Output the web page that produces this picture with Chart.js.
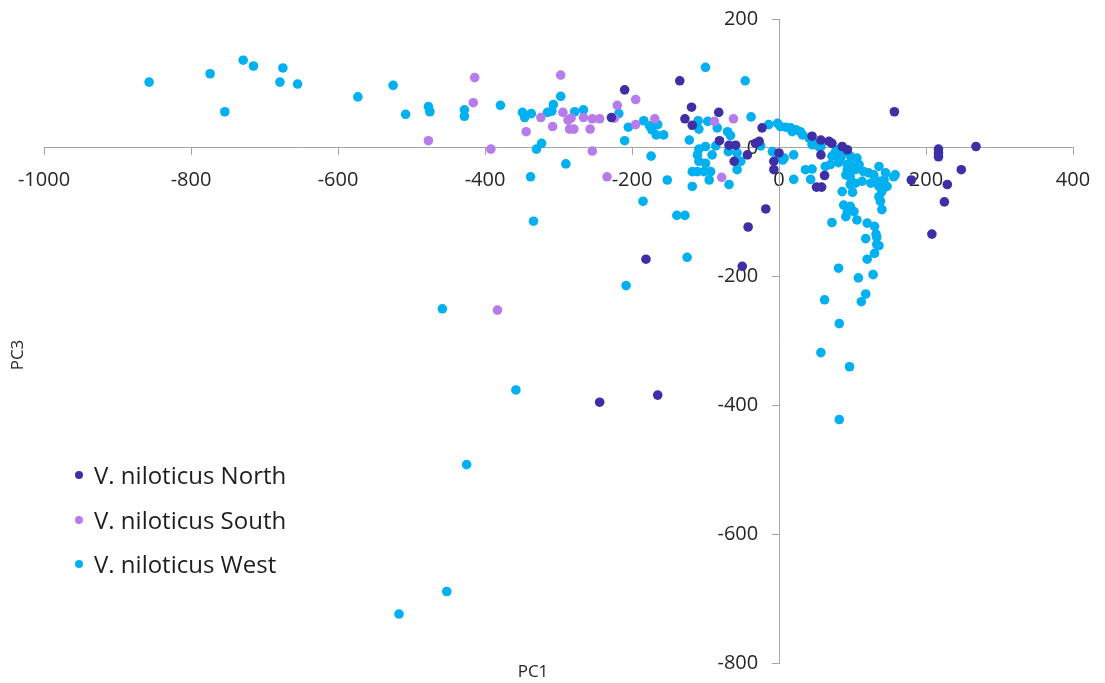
<!DOCTYPE html>
<html>
<head>
<meta charset="utf-8">
<script src="https://cdn.jsdelivr.net/npm/chart.js@4.4.0/dist/chart.umd.min.js"></script>
<style>
  html, body { margin: 0; padding: 0; background: #fff; }
  #wrap { position: relative; width: 1105px; height: 683px; }
  #legend { position: absolute; left: 74px; top: 458px; font-family: "Open Sans", sans-serif; font-size: 24px; color: #1e1e1e; }
  #legend .item { height: 44.5px; line-height: 33px; display: flex; align-items: flex-start; }
  #legend .dot { width: 8px; height: 8px; border-radius: 50%; margin: 13px 11px 0 1px; }
</style>
</head>
<body>
<div id="wrap">
  <canvas id="chartCanvas" width="1105" height="683"></canvas>
  <div id="legend"></div>
</div>
<script>
const seriesNames = ["V. niloticus North", "V. niloticus South", "V. niloticus West"];
const seriesColors = ["#3F2FA6", "#B77CEB", "#00B0F0"];

const xTickValues = [-1000, -800, -600, -400, -200, 0, 200, 400];
const yTickValues = [-800, -600, -400, -200, 0, 200];

const north = [
    [-210, 90], [-135, 104], [-228, 47], [-119, 63], [-128, 45], [-118, 35], [-82, 55], [-81, 11],
    [-68, 4], [-59, 4], [-61, -21], [-43, -11], [-32, 7], [-27, 10], [-23, 31], [-7, -21], [-7, -34],
    [0, -8], [-18, -95], [-42, -123], [-50, -184], [-181, -173], [-244, -395], [-165, -384],
    [45, 18], [57, 12], [68, 10], [72, 7], [86, 2], [93, -3], [57, -11], [62, -43], [51, -61], [58, -61],
    [157, 56], [217, -2], [217, -8], [217, -14], [268, 2], [248, -34], [229, -57], [225, -84],
    [208, -134], [180, -50]
];

const south = [
    [-414, 109], [-416, 70], [-477, 11], [-392, -2], [-297, 113], [-344, 25], [-324, 47], [-308, 33],
    [-294, 55], [-287, 43], [-283, 46], [-285, 29], [-279, 29], [-266, 47], [-254, 45], [-244, 45],
    [-257, 29], [-254, -5], [-234, -45], [-220, 66], [-224, 46], [-195, 75], [-195, 36], [-169, 45],
    [-62, 45], [-88, 41], [-78, -46], [-383, -252]
];

const west = [
    [-857, 102], [-774, 115], [-729, 136], [-715, 127], [-675, 124], [-679, 102], [-655, 99], [-754, 56],
    [-573, 79], [-525, 97], [-508, 52], [-477, 64], [-475, 56], [-428, 59], [-428, 49], [-379, 66],
    [-349, 55], [-346, 47], [-337, 53], [-315, 55], [-309, 57], [-307, 67], [-297, 80], [-278, 56],
    [-266, 59], [-323, 7], [-330, -2], [-290, -25], [-338, -45], [-334, -114],
    [-218, 53], [-205, 32], [-210, 11], [-184, 42], [-176, 34], [-173, 28], [-165, 36], [-167, 20],
    [-157, 20], [-174, -13], [-152, -50], [-185, -83], [-139, -105], [-128, -105], [-125, -170], [-208, -214],
    [-458, -250], [-358, -376], [-425, -492], [-452, -689], [-517, -724],
    [-100, 125], [-46, 104], [-38, 48], [-14, 36], [-110, 42], [-97, 41], [-84, 31], [-109, 29],
    [-70, 25], [-66, 19], [-122, 12], [-100, 2], [-86, 3], [-109, -2], [-111, -11], [-91, -11],
    [-109, -21], [-100, -24], [-118, -37], [-111, -37], [-102, -37], [-93, -37], [-95, -50], [-118, -60],
    [-68, -57], [-57, -34], [-52, -21], [-69, -6], [-57, -8], [-25, 3], [-9, -6], [0, -13], [7, -16],
    [20, -11], [20, -49], [43, -49], [5, -19],
    [-2, 38], [2, 33], [9, 32], [16, 31], [18, 25], [23, 28], [29, 25], [32, 20], [41, 15], [45, 10],
    [52, 5], [57, 2], [45, 5], [54, 2], [77, -6], [84, -6], [91, -6], [79, -3], [72, -13], [81, -11],
    [36, -34], [45, -33], [63, -29], [70, -26], [81, -23], [93, -26], [100, -34],
    [81, -8], [88, -8], [97, -13], [106, -16], [84, -16], [97, -26], [109, -26], [104, -34], [93, -34],
    [91, -42], [97, -45], [115, -37], [122, -39], [129, -42], [136, -29], [145, -39], [156, -45],
    [158, -42], [113, -52], [125, -55], [136, -52], [97, -57], [104, -55], [136, -60], [140, -68],
    [136, -76], [138, -83], [140, -96], [147, -60], [143, -50], [86, -68], [100, -69], [88, -89],
    [97, -91], [93, -99], [102, -99], [91, -107], [106, -112], [72, -116], [120, -117], [130, -122],
    [132, -134], [118, -141], [133, -139], [133, -150], [136, -152], [130, -164], [120, -173],
    [81, -187], [128, -197], [108, -202], [118, -227], [112, -239], [62, -236], [82, -273],
    [57, -318], [96, -340], [82, -422]
];

const axisColor = "#A6A6A6";
const textColor = "#262626";

const toPoints = (rows) => rows.map(([x, y]) => ({ x, y }));

// axis titles sit outside the crossing axes, so they are drawn by hand
const axisTitles = {
    id: "axisTitles",
    afterDraw(chart) {
        const ctx = chart.ctx;
        ctx.save();
        ctx.fillStyle = textColor;
        ctx.font = '17px "Open Sans"';
        ctx.textAlign = "center";
        ctx.textBaseline = "middle";
        ctx.fillText("PC1", 533, 672);
        ctx.translate(18, 355);
        ctx.rotate(-Math.PI / 2);
        ctx.fillText("PC3", 0, 0);
        ctx.restore();
    }
};

const ctx = document.getElementById("chartCanvas").getContext("2d");
const chart = new Chart(ctx, {
    type: "scatter",
    data: {
        datasets: [north, south, west].map((rows, i) => ({
            label: seriesNames[i],
            data: toPoints(rows),
            backgroundColor: seriesColors[i],
            borderColor: seriesColors[i],
            borderWidth: 0,
            pointRadius: 4.8,
            pointHoverRadius: 4.8,
        })),
    },
    options: {
        responsive: false,
        animation: false,
        devicePixelRatio: 1,
        layout: { padding: { left: 44, right: 32, top: 19, bottom: 20 } },
        plugins: {
            legend: { display: false },
            tooltip: { enabled: false },
        },
        scales: {
            x: {
                type: "linear",
                position: { y: 0 },
                min: -1000,
                max: 400,
                afterBuildTicks: (axis) => { axis.ticks = xTickValues.map((v) => ({ value: v })); },
                grid: { drawOnChartArea: false, drawTicks: true, tickLength: 7, color: axisColor },
                border: { display: true, color: axisColor, width: 1 },
                ticks: {
                    color: textColor,
                    font: { family: "Open Sans", size: 20 },
                    padding: 13,
                    maxRotation: 0,
                    callback: (v) => String(v),
                },
            },
            y: {
                type: "linear",
                position: { x: 0 },
                min: -800,
                max: 200,
                afterBuildTicks: (axis) => { axis.ticks = yTickValues.map((v) => ({ value: v })); },
                grid: { drawOnChartArea: false, drawTicks: true, tickLength: 7, color: axisColor },
                border: { display: true, color: axisColor, width: 1 },
                ticks: {
                    color: textColor,
                    font: { family: "Open Sans", size: 20 },
                    padding: 0,
                    // labels of a crossing axis get no padding, so keep a gap with trailing spaces
                    callback: (v) => v + "    ",
                },
            },
        },
    },
    plugins: [axisTitles],
});

const legendEl = document.getElementById("legend");
chart.data.datasets.forEach((ds) => {
    const item = document.createElement("div");
    item.className = "item";
    const dot = document.createElement("span");
    dot.className = "dot";
    dot.style.background = ds.backgroundColor;
    const label = document.createElement("span");
    label.textContent = ds.label;
    item.appendChild(dot);
    item.appendChild(label);
    legendEl.appendChild(item);
});
</script>
</body>
</html>
